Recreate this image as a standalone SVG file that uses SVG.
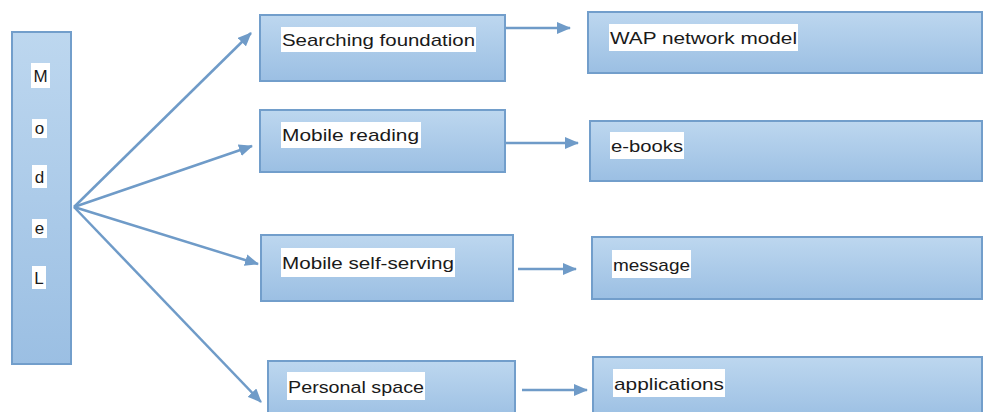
<svg xmlns="http://www.w3.org/2000/svg" width="984" height="412" viewBox="0 0 984 412">
<defs>
<linearGradient id="g" x1="0" y1="0" x2="0" y2="1">
<stop offset="0" stop-color="#bdd7ef"/>
<stop offset="1" stop-color="#9bbfe3"/>
</linearGradient>
<marker id="ah" markerUnits="userSpaceOnUse" markerWidth="14" markerHeight="12" refX="13" refY="6" orient="auto">
<path d="M0,0 L14,6 L0,12 Z" fill="#6f9bc8"/>
</marker>
<style>
.box{fill:url(#g);stroke:#729ecb;stroke-width:2}
.bg{fill:#ffffff}
.t{font-family:"Liberation Sans",Arial,sans-serif;font-size:17px;fill:#1a1a1a}
.c{stroke:#6f9bc8;stroke-width:2.5;fill:none;marker-end:url(#ah)}
</style>
</defs>
<rect width="984" height="412" fill="#ffffff"/>
<g id="model">
<rect class="box" x="12" y="32" width="59" height="332"/>
<rect class="bg" x="31" y="63" width="19" height="25"/>
<text class="t" x="40.5" y="82" text-anchor="middle">M</text>
<rect class="bg" x="32" y="119" width="15" height="19"/>
<text class="t" x="39.5" y="134" text-anchor="middle">o</text>
<rect class="bg" x="32" y="165" width="15" height="23"/>
<text class="t" x="39.5" y="183" text-anchor="middle">d</text>
<rect class="bg" x="32" y="219" width="15" height="19"/>
<text class="t" x="39.5" y="234" text-anchor="middle">e</text>
<rect class="bg" x="32" y="266" width="14" height="23"/>
<text class="t" x="39" y="284" text-anchor="middle">L</text>
</g>
<g id="searching">
<rect class="box" x="260" y="15" width="245" height="66"/>
<rect class="bg" x="281" y="27" width="195" height="25"/>
<text class="t" x="282" y="46" textLength="193" lengthAdjust="spacingAndGlyphs">Searching foundation</text>
</g>
<g id="reading">
<rect class="box" x="260" y="110" width="245" height="62"/>
<rect class="bg" x="281" y="122" width="140" height="26"/>
<text class="t" x="282" y="141" textLength="137" lengthAdjust="spacingAndGlyphs">Mobile reading</text>
</g>
<g id="selfserving">
<rect class="box" x="261" y="235" width="252" height="66"/>
<rect class="bg" x="281" y="248" width="174" height="29"/>
<text class="t" x="282" y="269" textLength="172" lengthAdjust="spacingAndGlyphs">Mobile self-serving</text>
</g>
<g id="personal">
<rect class="box" x="268" y="361" width="247" height="60"/>
<rect class="bg" x="287" y="372" width="138" height="28"/>
<text class="t" x="288" y="393" textLength="136" lengthAdjust="spacingAndGlyphs">Personal space</text>
</g>
<g id="wap">
<rect class="box" x="588" y="12" width="394" height="61"/>
<rect class="bg" x="609" y="24" width="189" height="27"/>
<text class="t" x="610" y="44" textLength="187" lengthAdjust="spacingAndGlyphs">WAP network model</text>
</g>
<g id="ebooks">
<rect class="box" x="590" y="121" width="392" height="60"/>
<rect class="bg" x="610" y="132" width="74" height="27"/>
<text class="t" x="611" y="152" textLength="72" lengthAdjust="spacingAndGlyphs">e-books</text>
</g>
<g id="message">
<rect class="box" x="592" y="237" width="390" height="62"/>
<rect class="bg" x="612" y="250" width="79" height="28"/>
<text class="t" x="613" y="271" textLength="77" lengthAdjust="spacingAndGlyphs">message</text>
</g>
<g id="applications">
<rect class="box" x="593" y="357" width="389" height="62"/>
<rect class="bg" x="613" y="369" width="112" height="28"/>
<text class="t" x="614" y="390" textLength="110" lengthAdjust="spacingAndGlyphs">applications</text>
</g>
<g id="connectors">
<line class="c" x1="74" y1="207" x2="251" y2="33"/>
<line class="c" x1="74" y1="207" x2="252" y2="146"/>
<line class="c" x1="74" y1="207" x2="258" y2="264"/>
<line class="c" x1="74" y1="207" x2="261" y2="402"/>
<line class="c" x1="506" y1="28" x2="570" y2="28"/>
<line class="c" x1="506" y1="143" x2="578" y2="143"/>
<line class="c" x1="518" y1="269" x2="576" y2="269"/>
<line class="c" x1="522" y1="390" x2="587" y2="390"/>
</g>
</svg>
